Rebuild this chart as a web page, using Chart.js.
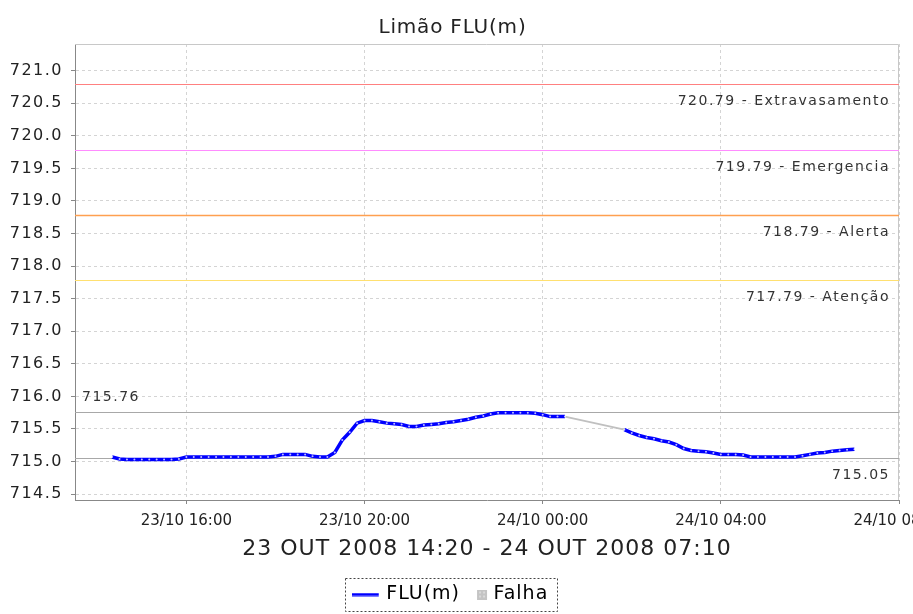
<!DOCTYPE html>
<html><head><meta charset="utf-8">
<script src="https://cdn.jsdelivr.net/npm/chart.js@4/dist/chart.umd.min.js"></script>
<style>html,body{margin:0;padding:0;background:#fff;overflow:hidden}canvas{display:block}</style>
</head><body>
<canvas id="c" width="913" height="614"></canvas>
<script>
// ---------- DATA ----------
const chartTitle = 'Limão FLU(m)';
const periodLabel = '23 OUT 2008 14:20 - 24 OUT 2008 07:10';

const times = [
 '23/10 14:20','23/10 14:30','23/10 14:40','23/10 14:50','23/10 15:00','23/10 15:10','23/10 15:20','23/10 15:30','23/10 15:40','23/10 15:50',
 '23/10 16:00','23/10 16:10','23/10 16:20','23/10 16:30','23/10 16:40','23/10 16:50','23/10 17:00','23/10 17:10','23/10 17:20','23/10 17:30',
 '23/10 17:40','23/10 17:50','23/10 18:00','23/10 18:10','23/10 18:20','23/10 18:30','23/10 18:40','23/10 18:50','23/10 19:00','23/10 19:10',
 '23/10 19:20','23/10 19:30','23/10 19:40','23/10 19:50','23/10 20:00','23/10 20:10','23/10 20:20','23/10 20:30','23/10 20:40','23/10 20:50',
 '23/10 21:00','23/10 21:10','23/10 21:20','23/10 21:30','23/10 21:40','23/10 21:50','23/10 22:00','23/10 22:10','23/10 22:20','23/10 22:30',
 '23/10 22:40','23/10 22:50','23/10 23:00','23/10 23:10','23/10 23:20','23/10 23:30','23/10 23:40','23/10 23:50',
 '24/10 00:00','24/10 00:10','24/10 00:20','24/10 00:30','24/10 00:40','24/10 00:50','24/10 01:00','24/10 01:10','24/10 01:20','24/10 01:30',
 '24/10 01:40','24/10 01:50','24/10 02:00','24/10 02:10','24/10 02:20','24/10 02:30','24/10 02:40','24/10 02:50','24/10 03:00','24/10 03:10',
 '24/10 03:20','24/10 03:30','24/10 03:40','24/10 03:50','24/10 04:00','24/10 04:10','24/10 04:20','24/10 04:30','24/10 04:40','24/10 04:50',
 '24/10 05:00','24/10 05:10','24/10 05:20','24/10 05:30','24/10 05:40','24/10 05:50','24/10 06:00','24/10 06:10','24/10 06:20','24/10 06:30',
 '24/10 06:40','24/10 06:50','24/10 07:00'
];

const fluValues = [
 715.07,715.04,715.03,715.03,715.03,715.03,715.03,715.03,715.03,715.04,
 715.07,715.07,715.07,715.07,715.07,715.07,715.07,715.07,715.07,715.07,
 715.07,715.07,715.08,715.11,715.11,715.11,715.11,715.08,715.07,715.07,
 715.14,715.33,715.45,715.59,715.63,715.63,715.61,715.59,715.58,715.57,
 715.54,715.54,715.56,715.57,715.58,715.60,715.61,715.63,715.65,715.68,
 715.70,715.73,715.75,715.75,715.75,715.75,715.75,715.74,
 715.72,715.69,715.69,715.69,null,null,null,null,null,null,
 null,715.49,715.44,715.40,715.37,715.35,715.32,715.30,715.26,715.20,
 715.17,715.16,715.15,715.13,715.11,715.11,715.11,715.10,715.07,715.07,
 715.07,715.07,715.07,715.07,715.07,715.09,715.11,715.13,715.14,715.16,
 715.17,715.18,715.19
];

const falhaTimes = ['24/10 00:30','24/10 01:50'];
const falhaValues = [715.69, 715.49];

const xRange = ['23/10 13:30','24/10 08:00'];
const xTicks = ['23/10 16:00','23/10 20:00','24/10 00:00','24/10 04:00','24/10 08:00'];
const yRange = [714.41, 721.41];
const yTicks = [714.5,715.0,715.5,716.0,716.5,717.0,717.5,718.0,718.5,719.0,719.5,720.0,720.5,721.0];

const thresholdValues = [720.79, 719.79, 718.79, 717.79, 715.76, 715.05];
const thresholdLabels = ['720.79 - Extravasamento','719.79 - Emergencia','718.79 - Alerta','717.79 - Atenção','715.76','715.05'];

// ---------- STYLE ----------
const thresholdColors = ['#ff8080','#ff8cff','#ffa050','#ffe070','#a8a8a8','#a8a8a8'];
const thresholdWidths = [1, 1, 1.3, 1, 1, 1];
const thresholdAnchor = ['below','below','below','below','above','below'];
const FONT = '"DejaVu Sans", sans-serif';
Chart.defaults.font.family = FONT;

const toMin = s => {
  const [d, t] = s.split(' ');
  const day = +d.split('/')[0];
  const [h, m] = t.split(':').map(Number);
  return (day - 23) * 1440 + h * 60 + m;
};

const fluPts = times.map((t, i) => ({x: toMin(t), y: fluValues[i]}));
const falhaPts = falhaTimes.map((t, i) => ({x: toMin(t), y: falhaValues[i]}));

const refLines = {
  id: 'refLines',
  beforeDatasetsDraw(chart) {
    const {ctx, chartArea: a, scales: {y}} = chart;
    ctx.save();
    ctx.setLineDash([]);
    ctx.strokeStyle = '#c8c8c8'; ctx.lineWidth = 1;
    ctx.beginPath();
    ctx.moveTo(a.left, a.top + 0.5); ctx.lineTo(a.right - 0.5, a.top + 0.5); ctx.lineTo(a.right - 0.5, a.bottom);
    ctx.stroke();
    for (let i = 0; i < thresholdValues.length; i++) {
      const yy = Math.round(y.getPixelForValue(thresholdValues[i])) + 0.5;
      ctx.beginPath();
      ctx.strokeStyle = thresholdColors[i];
      ctx.lineWidth = thresholdWidths[i];
      ctx.moveTo(a.left, yy); ctx.lineTo(a.right, yy);
      ctx.stroke();
      ctx.font = '14px ' + FONT;
      ctx.letterSpacing = '1.5px';
      ctx.fillStyle = '#333';
      ctx.textBaseline = 'middle';
      if (thresholdAnchor[i] === 'above') {
        ctx.textAlign = 'left';
        ctx.fillText(thresholdLabels[i], a.left + 7, yy - 15);
      } else {
        ctx.textAlign = 'right';
        ctx.fillText(thresholdLabels[i], a.right - 9, yy + 17);
      }
    }
    ctx.restore();
  }
};

const legendBox = {
  id: 'legendBox',
  afterDraw(chart) {
    const lg = chart.legend;
    if (!lg || !lg.legendHitBoxes || !lg.legendHitBoxes.length) return;
    const hb = lg.legendHitBoxes;
    const l = Math.min(...hb.map(h => h.left)) - 12;
    const r = Math.max(...hb.map(h => h.left + h.width)) + 8;
    const cy = hb[0].top + hb[0].height / 2;
    const {ctx} = chart;
    ctx.save();
    ctx.setLineDash([2, 2]);
    ctx.strokeStyle = '#444';
    ctx.lineWidth = 1;
    ctx.strokeRect(Math.round(l) + 0.5, Math.round(cy - 17) + 0.5, Math.round(r - l), 33);
    ctx.restore();
  }
};

// letter spacing for some Chart.js-drawn texts
const wrapSpacing = (chart, obj, fn, sp) => {
  if (!obj || obj['_w_' + fn]) return;
  const orig = obj[fn];
  obj[fn] = function (...args) {
    const c = chart.ctx; const prev = c.letterSpacing;
    c.letterSpacing = sp;
    try { return orig.apply(this, args); } finally { c.letterSpacing = prev; }
  };
  obj['_w_' + fn] = true;
};
const spacing = {
  id: 'spacing',
  afterInit(chart) {
    wrapSpacing(chart, chart.legend, 'fit', '1px');
    wrapSpacing(chart, chart.legend, 'draw', '1px');
  },
  afterLayout(chart) {
    wrapSpacing(chart, chart.scales.y, 'drawLabels', '1.5px');
    wrapSpacing(chart, chart.scales.x, 'drawTitle', '1px');
    wrapSpacing(chart, chart.titleBlock, 'draw', '0.8px');
  }
};

// legend symbols
const lineSym = document.createElement('canvas');
lineSym.width = 30; lineSym.height = 4;
{ const c = lineSym.getContext('2d'); c.fillStyle = '#0000ff'; c.fillRect(0, 0.5, 27, 3); }
const sqSym = document.createElement('canvas');
sqSym.width = 30; sqSym.height = 10;
{
  const c = sqSym.getContext('2d');
  c.fillStyle = '#c4c4c4'; c.fillRect(18, 0, 10, 10);
  c.fillStyle = '#dadada'; c.fillRect(20, 2, 2, 2); c.fillRect(24, 2, 2, 2); c.fillRect(20, 6, 2, 2); c.fillRect(24, 6, 2, 2);
}

new Chart(document.getElementById('c'), {
  type: 'line',
  data: {
    datasets: [
      {label: 'FLU(m)', data: fluPts, borderColor: '#0000ff', borderWidth: 3.5, pointRadius: 1,
       pointBackgroundColor: 'rgba(255,255,255,0.75)', pointBorderWidth: 0, spanGaps: false, tension: 0},
      {label: 'Falha', data: falhaPts, borderColor: '#c0c0c0', borderWidth: 2, pointRadius: 0, spanGaps: true, tension: 0}
    ]
  },
  options: {
    responsive: false, animation: false, devicePixelRatio: 1,
    layout: {padding: {left: 6, right: 14, top: 0, bottom: 0}},
    plugins: {
      tooltip: {enabled: false},
      title: {display: true, text: chartTitle, color: '#222', font: {size: 20, weight: 'normal'}, padding: {top: 16, bottom: 4}},
      legend: {
        position: 'bottom',
        labels: {
          usePointStyle: true, pointStyleWidth: 20, padding: 4, color: '#111', font: {size: 19},
          generateLabels: () => [
            {text: 'FLU(m)', pointStyle: lineSym, strokeStyle: '#0000ff', fillStyle: '#0000ff', lineWidth: 0, hidden: false, datasetIndex: 0},
            {text: 'Falha', pointStyle: sqSym, strokeStyle: '#c4c4c4', fillStyle: '#c4c4c4', lineWidth: 0, hidden: false, datasetIndex: 1}
          ]
        }
      }
    },
    scales: {
      x: {
        type: 'linear', min: toMin(xRange[0]), max: toMin(xRange[1]),
        afterBuildTicks: s => { s.ticks = xTicks.map(t => ({value: toMin(t)})); },
        afterFit: s => { s.paddingRight = 0; s.height = 81; },
        ticks: {
          autoSkip: false, maxRotation: 0, color: '#222', font: {size: 15}, padding: 8,
          callback: v => { const k = xTicks.find(t => toMin(t) === v); return k || ''; }
        },
        grid: {color: '#d4d4d4', tickColor: '#888', tickLength: 4},
        border: {color: '#888', dash: [3, 3]},
        title: {display: true, text: periodLabel, color: '#222', font: {size: 22}, padding: {top: 2, bottom: 19}}
      },
      y: {
        min: yRange[0], max: yRange[1],
        afterBuildTicks: s => { s.ticks = yTicks.map(v => ({value: v})); },
        afterFit: s => { s.width = 69; },
        ticks: {color: '#222', font: {size: 16}, padding: 8, callback: v => Number(v).toFixed(1)},
        grid: {color: '#d4d4d4', tickColor: '#888', tickLength: 4},
        border: {color: '#888', dash: [3, 3]}
      }
    }
  },
  plugins: [refLines, legendBox, spacing]
});
</script>
</body></html>
